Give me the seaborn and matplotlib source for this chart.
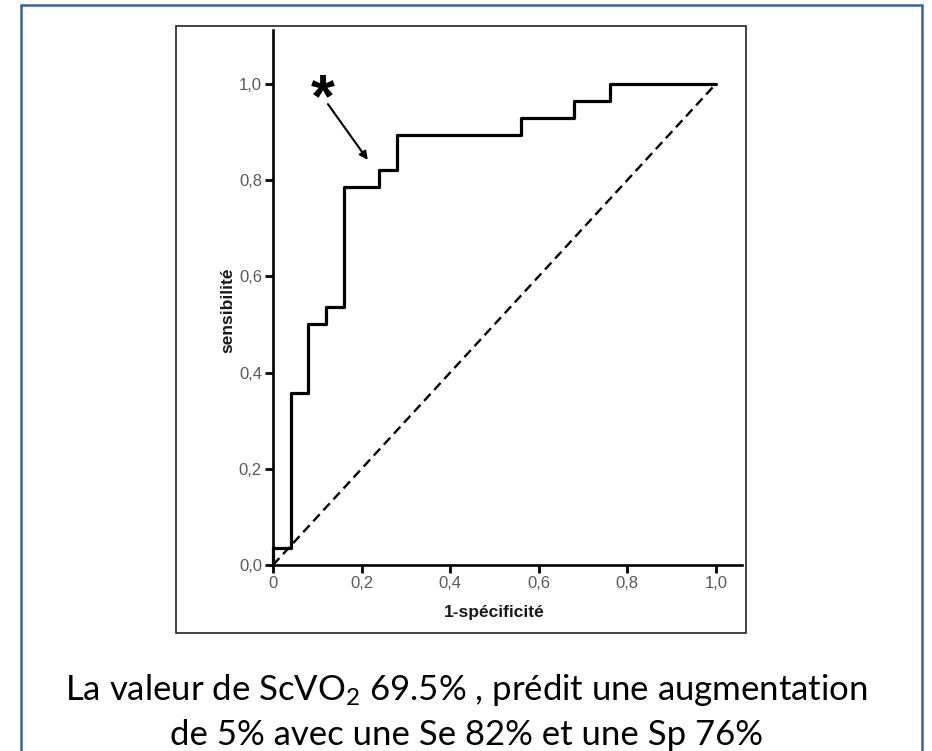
import matplotlib
matplotlib.use("Agg")
import matplotlib.pyplot as plt
import seaborn as sns
import pandas as pd
from matplotlib.patches import Rectangle

# ---- data ----
fpr = [0.0, 0.0, 0.04, 0.08, 0.12, 0.16, 0.24, 0.28, 0.56, 0.68, 0.76, 1.0]
tpr = [0.0, 1/28, 10/28, 14/28, 15/28, 22/28, 23/28, 25/28, 26/28, 27/28, 1.0, 1.0]
ref_x = [0.0, 1.0]
ref_y = [0.0, 1.0]
tick_values = [0.0, 0.2, 0.4, 0.6, 0.8, 1.0]
x_tick_labels = ["0", "0,2", "0,4", "0,6", "0,8", "1,0"]
y_tick_labels = ["0,0", "0,2", "0,4", "0,6", "0,8", "1,0"]
x_label = "1-spécificité"
y_label = "sensibilité"
caption_1 = r"La valeur de ScVO$_2$ 69.5% , prédit une augmentation"
caption_2 = "de 5% avec une Se 82% et une Sp 76%"

sns.set_style("white")
plt.rcParams["font.family"] = ["Liberation Sans", "DejaVu Sans"]
plt.rcParams["mathtext.fontset"] = "custom"
plt.rcParams["mathtext.rm"] = "Lato"
plt.rcParams["mathtext.it"] = "Lato"

W, H = 932, 751
fig = plt.figure(figsize=(W / 100, H / 100), dpi=100)
fig.patch.set_facecolor("white")

# axes placement (pixels -> figure fraction)
x0, x1 = 273, 742
y0, y1 = 565, 30
ax = fig.add_axes([x0 / W, (H - y0) / H, (x1 - x0) / W, (y0 - y1) / H])

df = pd.DataFrame({"fpr": fpr, "tpr": tpr})
sns.lineplot(data=df, x="fpr", y="tpr", sort=False, estimator=None,
             drawstyle="steps-post", color="black", linewidth=2.3, ax=ax,
             clip_on=False, zorder=3)
dref = pd.DataFrame({"x": ref_x, "y": ref_y})
sns.lineplot(data=dref, x="x", y="y", sort=False, estimator=None,
             color="black", linewidth=1.7, dashes=False, ax=ax, zorder=2)
ax.lines[-1].set_dashes((4, 2.3))

ax.set_xlim(0, 1.059)
ax.set_ylim(0, 1.112)
ax.set_xticks(tick_values)
ax.set_xticklabels(x_tick_labels)
ax.set_yticks(tick_values)
ax.set_yticklabels(y_tick_labels)
ax.tick_params(axis="both", which="major", bottom=True, left=True,
               direction="out", length=6, width=2, color="black",
               labelsize=12, labelcolor="#5a5a5a", pad=2)
for s in ["top", "right"]:
    ax.spines[s].set_visible(False)
for s in ["left", "bottom"]:
    ax.spines[s].set_linewidth(1.9)
    ax.spines[s].set_color("black")
ax.set_xlabel(x_label, fontsize=12.5, fontweight="bold", color="#1a1a1a")
ax.set_ylabel(y_label, fontsize=12.5, fontweight="bold", color="#1a1a1a")
ax.xaxis.set_label_coords((494 - x0) / (x1 - x0), -(612 - y0) / (y0 - y1))
ax.xaxis.label.set_va("center")
ax.yaxis.set_label_coords(-(273 - 228) / (x1 - x0), (y0 - 310) / (y0 - y1))
ax.yaxis.label.set_va("center")
ax.set_facecolor("none")

# asterisk and arrow
ax.text(0.113, 0.965, "*", fontsize=44, fontweight="bold", ha="center",
        va="center", color="black")
ax.annotate("", xy=(0.214, 0.842), xytext=(0.124, 0.958),
            arrowprops=dict(arrowstyle="-|>", color="black", lw=1.5,
                            mutation_scale=12, shrinkA=0, shrinkB=0))

# image frame
fig.patches.append(Rectangle((176 / W, (H - 633) / H), (746 - 176) / W, (633 - 26) / H,
                             transform=fig.transFigure, fill=False,
                             edgecolor="#222222", linewidth=1.2, zorder=0))
# blue outer border
fig.patches.append(Rectangle((21 / W, -0.01), (922 - 21) / W, (H - 5) / H + 0.01,
                             transform=fig.transFigure, fill=False,
                             edgecolor="#3B5EA6", linewidth=1.8, zorder=0))

# caption
fig.text(466 / W, 1 - 690 / H, caption_1, ha="center", va="center",
         fontsize=25, family="Lato", color="black")
fig.text(466 / W, 1 - 735 / H, caption_2, ha="center", va="center",
         fontsize=25, family="Lato", color="black")

fig.savefig("out.png", dpi=100)
